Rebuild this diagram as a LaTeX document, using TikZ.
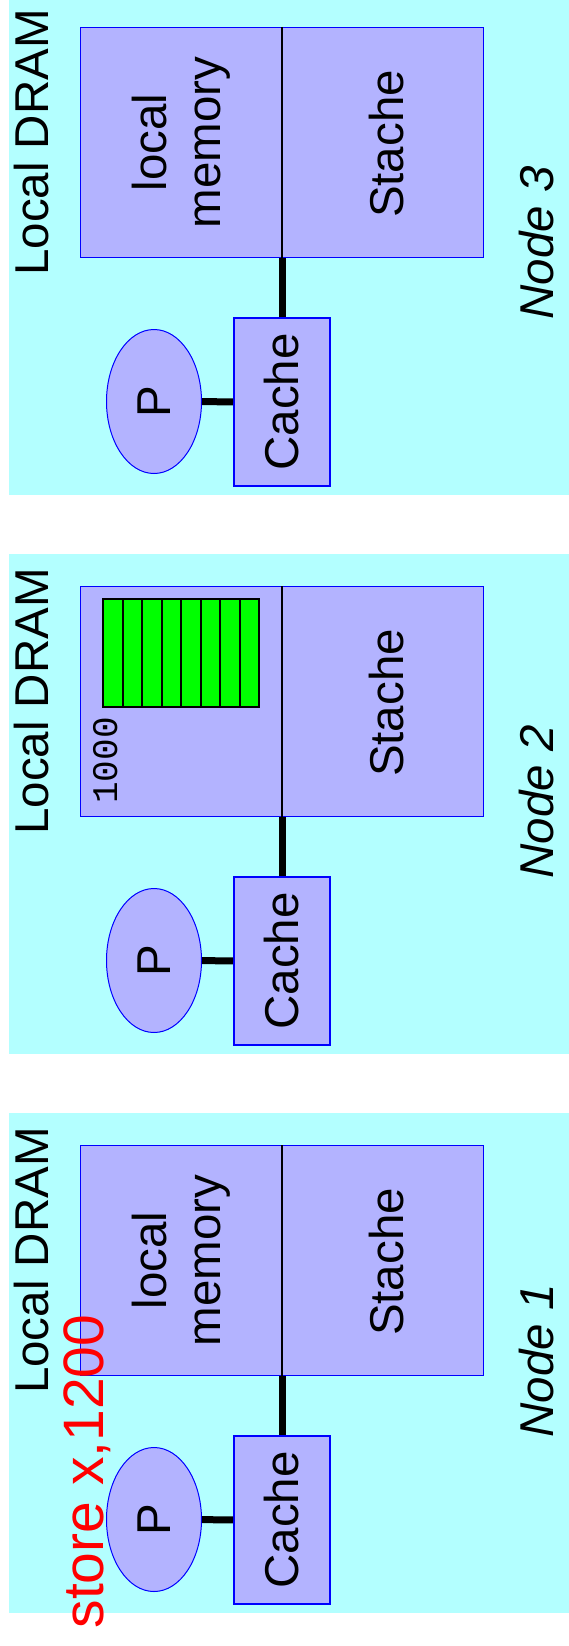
\documentclass[tikz,border=0pt]{standalone}
\usepackage{fontspec}
\setmainfont{Liberation Sans}
\newfontfamily\codefont{Liberation Mono}
\usetikzlibrary{shapes.geometric}
\definecolor{panelcyan}{RGB}{179,255,255}
\definecolor{memblue}{RGB}{179,179,255}
\definecolor{cellgreen}{RGB}{0,255,0}

\begin{document}
\begin{tikzpicture}[
  x=1pt, y=-1pt,
  bigfont/.style={font=\fontsize{47.5}{54}\selectfont},
  label text/.style={rotate=90, anchor=base, inner sep=0pt, bigfont},
  memtext/.style={rotate=90, align=center, inner sep=0pt, bigfont},
  dram/.style={draw=blue, line width=1pt, fill=memblue, minimum width=403pt,
    minimum height=230pt, inner sep=0pt},
  cachebox/.style={draw=blue, line width=2pt, fill=memblue, rotate=90,
    minimum width=168pt, minimum height=96pt, inner sep=0pt, bigfont},
  cpu/.style={ellipse, draw=blue, line width=1pt, fill=memblue, rotate=90,
    minimum width=144pt, minimum height=95pt, inner sep=0pt, bigfont},
  bus/.style={line width=7pt},
  cell/.style={draw, line width=2pt, fill=cellgreen, minimum width=19.5pt,
    minimum height=108pt, inner sep=0pt}
]
\clip (0,0) rectangle (569,1646);

\foreach \k/\py in {3/27, 2/586, 1/1145} {
  \fill[panelcyan] (9,\py-32) rectangle (569,\py+468);
  \node[dram] (dram\k) at (282,\py+115.5) {};
  \draw[line width=1.5pt] (dram\k.north) -- (dram\k.south);
  \node[label text] (dramlabel\k) at (48,\py+115.5) {Local DRAM};
  \node[label text] (stache\k) at (403,\py+117) {Stache};
  \node[label text, font=\fontsize{47.5}{54}\selectfont\itshape] (nodename\k)
    at (553,\py+216) {Node \k};
  \node[cachebox] (cache\k) at (282,\py+375) {Cache};
  \node[cpu] (cpu\k) at (154,\py+374.5) {P};
  \draw[bus] (dram\k.south) -- (cache\k);
  \draw[bus] (cpu\k) -- (cache\k);
}

\foreach \k/\py in {3/27, 1/1145}
  \node[memtext] (localmem\k) at (181,\py+115.5) {local\\memory};

% block held in node 2
\foreach \i in {0,...,7}
  \node[cell] (cell\i) at ({112.75+19.5*\i},653) {};
\node[label text, font=\codefont\fontsize{36}{40}\selectfont] (addr)
  at (117,760.5) {1000};

\node[label text, text=red, font=\fontsize{57}{64}\selectfont] (store)
  at (103,1471.5) {store x,1200};
\end{tikzpicture}
\end{document}
